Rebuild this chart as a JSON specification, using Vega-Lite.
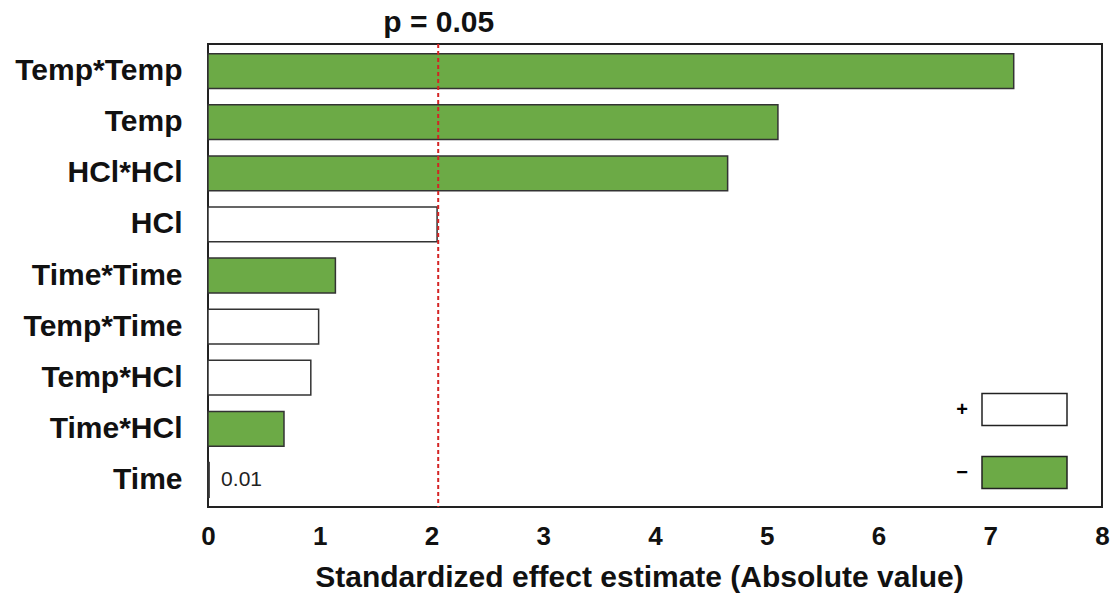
{
  "$schema": "https://vega.github.io/schema/vega-lite/v6.json",
  "width": 894,
  "height": 463,
  "autosize": {"type": "none"},
  "padding": {"left": 208, "top": 44, "right": 11, "bottom": 87},
  "background": "white",
  "config": {
    "view": {"stroke": "#222", "strokeWidth": 2},
    "font": "Liberation Sans",
    "axis": {"grid": false, "ticks": false, "domain": false, "labelColor": "#111", "titleColor": "#111"}
  },
  "data": {
    "values": [
      {"term": "Temp*Temp", "value": 7.21, "sign": "−"},
      {"term": "Temp", "value": 5.10, "sign": "−"},
      {"term": "HCl*HCl", "value": 4.65, "sign": "−"},
      {"term": "HCl", "value": 2.05, "sign": "+"},
      {"term": "Time*Time", "value": 1.14, "sign": "−"},
      {"term": "Temp*Time", "value": 0.99, "sign": "+"},
      {"term": "Temp*HCl", "value": 0.92, "sign": "+"},
      {"term": "Time*HCl", "value": 0.68, "sign": "−"},
      {"term": "Time", "value": 0.01, "sign": "+"}
    ]
  },
  "resolve": {"axis": {"x": "independent"}},
  "layer": [
    {
      "mark": {"type": "bar", "stroke": "#333", "strokeWidth": 1.5, "opacity": 1},
      "encoding": {
        "y": {
          "field": "term", "type": "nominal",
          "sort": ["Temp*Temp", "Temp", "HCl*HCl", "HCl", "Time*Time", "Temp*Time", "Temp*HCl", "Time*HCl", "Time"],
          "scale": {"paddingInner": 0.32, "paddingOuter": 0.19},
          "axis": {"title": null, "labelFontSize": 30, "labelFontWeight": "bold", "labelPadding": 26}
        },
        "x": {
          "field": "value", "type": "quantitative",
          "scale": {"domain": [0, 8], "nice": false},
          "axis": {"values": [0, 1, 2, 3, 4, 5, 6, 7, 8], "labelFontSize": 26, "labelFontWeight": "bold", "labelPadding": 16, "labelFlush": false,
                   "title": "Standardized effect estimate (Absolute value)", "titleFontSize": 30, "titleFontWeight": "bold", "titlePadding": 13, "titleX": 431}
        },
        "fill": {
          "field": "sign", "type": "nominal",
          "scale": {"domain": ["+", "−"], "range": ["white", "#6CAA46"]},
          "legend": {
            "orient": "none", "legendX": 773, "legendY": 322, "title": null,
            "symbolType": "M-1,-0.376H1V0.376H-1Z", "symbolSize": 7225,
            "symbolStrokeColor": "#222", "symbolStrokeWidth": 1.5, "symbolOpacity": 1,
            "labelFontSize": 20, "labelFontWeight": "bold", "labelAlign": "right", "labelOffset": -100,
            "rowPadding": -5
          }
        }
      }
    },
    {
      "data": {"values": [{"term": "Time", "value": 0.01, "label": "0.01"}]},
      "mark": {"type": "text", "align": "left", "dx": 12, "fontSize": 21, "color": "#222"},
      "encoding": {
        "y": {"field": "term", "type": "nominal",
              "sort": ["Temp*Temp", "Temp", "HCl*HCl", "HCl", "Time*Time", "Temp*Time", "Temp*HCl", "Time*HCl", "Time"]},
        "x": {"field": "value", "type": "quantitative", "axis": null},
        "text": {"field": "label"}
      }
    },
    {
      "data": {"values": [{"p": 2.06}]},
      "mark": {"type": "rule", "color": "#d42424", "strokeDash": [4, 3], "strokeWidth": 2},
      "encoding": {
        "x": {"field": "p", "type": "quantitative",
              "axis": {"orient": "top", "values": [2.06], "labelExpr": "'p = 0.05'", "labelFontSize": 30, "labelFontWeight": "bold", "labelPadding": 7, "title": null}}
      }
    }
  ]
}
